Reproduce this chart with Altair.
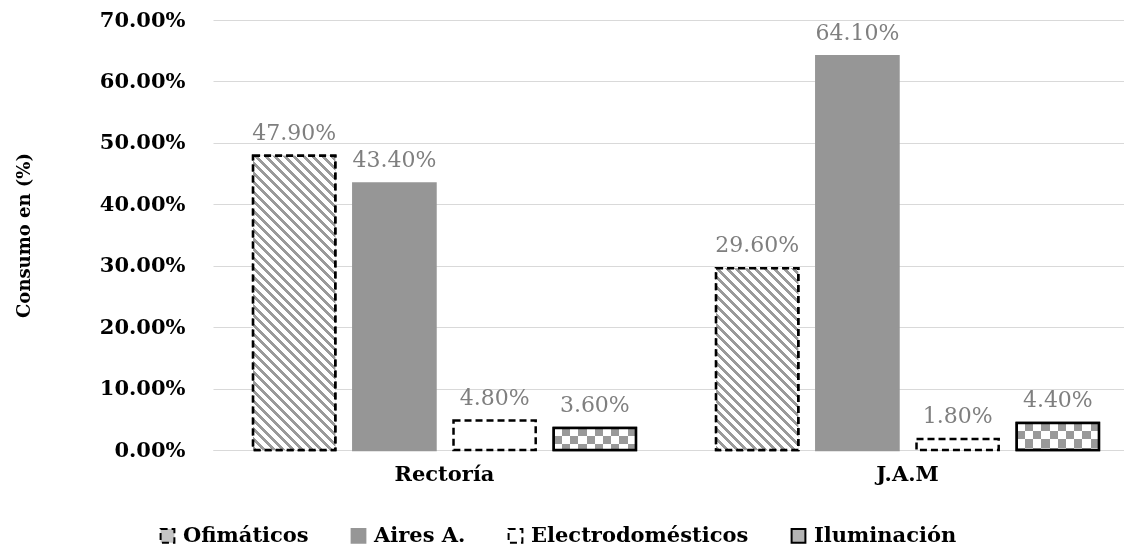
import altair as alt
import pandas as pd

# --- data -------------------------------------------------------------
groups = ["Rectoría", "J.A.M"]
series = ["Ofimáticos", "Aires A.", "Electrodomésticos", "Iluminación"]
rectoria = [47.9, 43.4, 4.8, 3.6]
jam = [29.6, 64.1, 1.8, 4.4]
y_ticks = [0, 10, 20, 30, 40, 50, 60, 70]

rows = []
for g, vals in zip(groups, [rectoria, jam]):
    for s, v in zip(series, vals):
        rows.append({"grupo": g, "serie": s, "valor": v})
df = pd.DataFrame(rows)

# --- layout -----------------------------------------------------------
PLOT_W, PLOT_H = 912, 430
X_RANGE = [1, 927]
Y_MAX = 70
OFF_PAD_IN, OFF_PAD_OUT = 0.18, 0.4
FONT = "DejaVu Serif"

band = (X_RANGE[1] - X_RANGE[0]) / len(groups)
step = band / (len(series) - OFF_PAD_IN + 2 * OFF_PAD_OUT)
bar_w = step * (1 - OFF_PAD_IN)
px_per_unit = PLOT_H / Y_MAX

fill_range = ["#c4c4c4", "#969696", "#ffffff", "#b4b4b4"]
stroke_range = ["#000000", "#969696", "#000000", "#000000"]
dash_range = [[7, 4], [1, 0], [7, 4], [1, 0]]


# --- pattern fills built from linear gradients (bbox units) -----------
def hatch(h, w=bar_w, period=9.5, frac=0.42, ink="#9a9a9a", paper="#ffffff"):
    """Diagonal '\\' stripes at 45 degrees for a w x h bar."""
    span = w + h
    k = span / (w * w + h * h)
    stops, pos = [], 0.0
    while pos < span:
        a = pos / span
        b = min((pos + frac * period) / span, 1.0)
        c = min((pos + period) / span, 1.0)
        stops += [{"offset": a, "color": ink}, {"offset": b, "color": ink},
                  {"offset": b, "color": paper}, {"offset": c, "color": paper}]
        pos += period
    return {"gradient": "linear", "x1": 0, "y1": 1, "x2": k * w, "y2": 1 - k * h,
            "stops": stops}


def bands(length, cell, first, second, vertical):
    """Alternating flat bands of size `cell` along one side of a bar."""
    stops, pos, i = [], 0.0, 0
    while pos < length:
        col = first if i % 2 == 0 else second
        a = pos / length
        b = min((pos + cell) / length, 1.0)
        stops += [{"offset": a, "color": col}, {"offset": b, "color": col}]
        pos += cell
        i += 1
    if vertical:
        return {"gradient": "linear", "x1": 0, "y1": 0, "x2": 0, "y2": 1, "stops": stops}
    return {"gradient": "linear", "x1": 0, "y1": 0, "x2": 1, "y2": 0, "stops": stops}


# --- shared encodings -------------------------------------------------
x_enc = alt.X(
    "grupo:N",
    sort=groups,
    scale=alt.Scale(domain=groups, range=X_RANGE, paddingInner=0, paddingOuter=0),
    axis=alt.Axis(title=None, labelAngle=0, ticks=False, grid=False,
                  domainColor="#d9d9d9", domainWidth=1,
                  labelFont=FONT, labelFontWeight="bold", labelFontSize=21,
                  labelColor="#000000", labelPadding=13),
)
off_enc = alt.XOffset(
    "serie:N",
    sort=series,
    scale=alt.Scale(domain=series, paddingInner=OFF_PAD_IN, paddingOuter=OFF_PAD_OUT),
)
y_enc = alt.Y(
    "valor:Q",
    scale=alt.Scale(domain=[0, Y_MAX], nice=False),
    axis=alt.Axis(values=y_ticks, labelExpr="format(datum.value, '.2f') + '%'",
                  title="Consumo en (%)", domain=False, ticks=False, grid=True,
                  gridColor="#d9d9d9", gridWidth=1,
                  labelFont=FONT, labelFontWeight="bold", labelFontSize=21,
                  labelColor="#000000", labelPadding=27,
                  titleFont=FONT, titleFontWeight="bold", titleFontSize=18,
                  titleColor="#000000", titleAngle=270, titleBaseline="middle",
                  titleX=-188, titleY=PLOT_H / 2),
)

base = alt.Chart(df)

# all bars with their plain fill, outline and dash (also feeds the legend)
bars = base.mark_bar(strokeWidth=2.5).encode(
    x=x_enc, xOffset=off_enc, y=y_enc,
    fill=alt.Fill("serie:N", sort=series,
                  scale=alt.Scale(domain=series, range=fill_range),
                  legend=alt.Legend(title=None, orient="none", direction="horizontal",
                                    legendX=-55, legendY=505, symbolType="square",
                                    symbolSize=190, symbolStrokeWidth=2,
                                    labelFont=FONT, labelFontWeight="bold",
                                    labelFontSize=21, labelColor="#000000",
                                    labelLimit=400,
                                    labelOffset=5, columnPadding=38, padding=0)),
    stroke=alt.Stroke("serie:N", sort=series,
                      scale=alt.Scale(domain=series, range=stroke_range),
                      legend=alt.Legend(title=None, orient="none", labelLimit=400)),
    strokeDash=alt.StrokeDash("serie:N", sort=series,
                              scale=alt.Scale(domain=series, range=dash_range),
                              legend=alt.Legend(title=None, orient="none", labelLimit=400)),
)


def single(g, s):
    return base.transform_filter(
        (alt.datum.grupo == g) & (alt.datum.serie == s)
    )


layers = [bars]
vals = {"Rectoría": rectoria, "J.A.M": jam}
cell = bar_w / 10

for g in groups:
    # hatched office equipment bar
    v = vals[g][0]
    h = v * px_per_unit
    layers.append(
        single(g, "Ofimáticos").mark_bar(
            fill=hatch(h), stroke="#000000", strokeWidth=2.5, strokeDash=[7, 4]
        ).encode(x=x_enc, xOffset=off_enc, y=y_enc)
    )
    # checkerboard lighting bar: columns XOR rows, then lightened
    v = vals[g][3]
    h = v * px_per_unit
    layers.append(
        single(g, "Iluminación").mark_bar(
            fill=bands(bar_w, cell, "#ffffff", "#000000", vertical=False)
        ).encode(x=x_enc, xOffset=off_enc, y=y_enc)
    )
    layers.append(
        single(g, "Iluminación").mark_bar(
            fill=bands(h, cell, "#000000", "#ffffff", vertical=True), blend="difference"
        ).encode(x=x_enc, xOffset=off_enc, y=y_enc)
    )
    layers.append(
        single(g, "Iluminación").mark_bar(fill="#ffffff", fillOpacity=0.6)
        .encode(x=x_enc, xOffset=off_enc, y=y_enc)
    )
    layers.append(
        single(g, "Iluminación").mark_bar(
            fillOpacity=0, stroke="#000000", strokeWidth=2.5
        ).encode(x=x_enc, xOffset=off_enc, y=y_enc)
    )

labels = base.transform_calculate(
    etiqueta="format(datum.valor, '.2f') + '%'"
).mark_text(
    font=FONT, fontSize=22, color="#7f7f7f", baseline="alphabetic", dy=-16
).encode(x=x_enc, xOffset=off_enc, y=y_enc, text="etiqueta:N")
layers.append(labels)

chart = alt.layer(*layers).properties(
    width=PLOT_W,
    height=PLOT_H,
    autosize=alt.AutoSizeParams(type="none"),
    padding={"left": 212, "top": 20, "right": 0, "bottom": 98},
    background="#ffffff",
).configure_view(stroke=None)

chart.save("out.html", embed_options={"renderer": "svg", "actions": False})
